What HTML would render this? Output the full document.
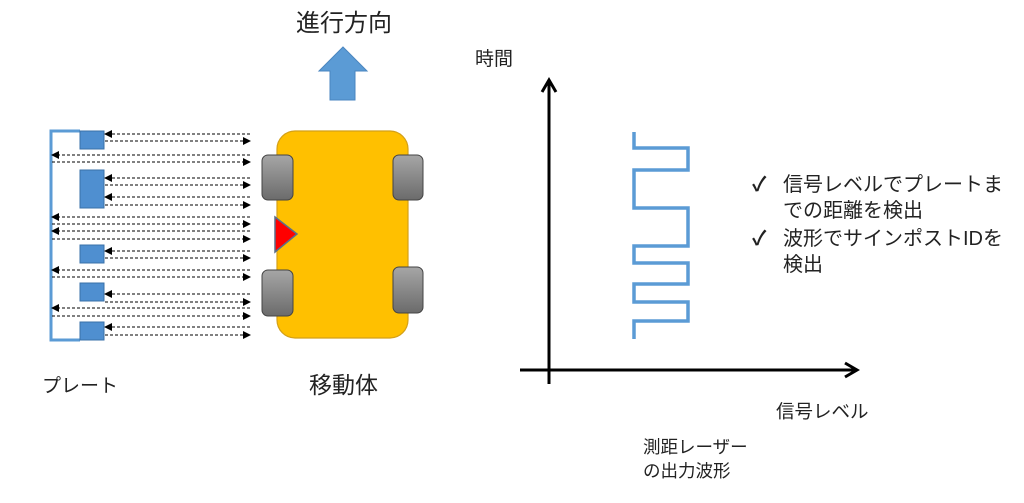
<!DOCTYPE html>
<html><head><meta charset="utf-8"><style>
html,body{margin:0;padding:0;background:#fff;}
svg{display:block;}
text{font-family:"Liberation Sans","Noto Sans CJK JP",sans-serif;fill:#222;}
</style></head><body>
<svg width="1024" height="503" viewBox="0 0 1024 503" xmlns="http://www.w3.org/2000/svg">
<defs>
<marker id="ah" markerWidth="8" markerHeight="8" refX="7" refY="4" orient="auto" markerUnits="userSpaceOnUse"><path d="M0,0 L8,4 L0,8 z" fill="#000"/></marker>
<linearGradient id="wg" x1="0" y1="0" x2="0" y2="1"><stop offset="0" stop-color="#a6a6a6"/><stop offset="1" stop-color="#6b6b6b"/></linearGradient>
</defs>
<text x="296" y="31" font-size="24">進行方向</text>
<polygon points="343,47 367,71 355,71 355,100 330,100 330,71 319,71" fill="#5b9bd5" stroke="#4a86c0" stroke-width="1"/>
<path d="M80,131 H51 V340 H80" fill="none" stroke="#5b9bd5" stroke-width="3"/>
<g fill="#4f8fd0" stroke="#3a70a8" stroke-width="1">
<rect x="80" y="131" width="24" height="18"/>
<rect x="80" y="170" width="24" height="38"/>
<rect x="80" y="245" width="24" height="18"/>
<rect x="80" y="283" width="24" height="18"/>
<rect x="80" y="322" width="24" height="18"/>
</g>
<g stroke="#000" stroke-width="1" stroke-dasharray="3,2" fill="none">
<line x1="250" y1="134" x2="105" y2="134" marker-end="url(#ah)"/><line x1="105" y1="141" x2="250" y2="141" marker-end="url(#ah)"/>
<line x1="250" y1="155" x2="52" y2="155" marker-end="url(#ah)"/><line x1="52" y1="162" x2="250" y2="162" marker-end="url(#ah)"/>
<line x1="250" y1="178" x2="105" y2="178" marker-end="url(#ah)"/><line x1="105" y1="185" x2="250" y2="185" marker-end="url(#ah)"/>
<line x1="250" y1="197" x2="105" y2="197" marker-end="url(#ah)"/><line x1="105" y1="205" x2="250" y2="205" marker-end="url(#ah)"/>
<line x1="250" y1="217" x2="52" y2="217" marker-end="url(#ah)"/><line x1="52" y1="224" x2="250" y2="224" marker-end="url(#ah)"/>
<line x1="250" y1="231" x2="52" y2="231" marker-end="url(#ah)"/><line x1="52" y1="239" x2="250" y2="239" marker-end="url(#ah)"/>
<line x1="250" y1="251" x2="105" y2="251" marker-end="url(#ah)"/><line x1="105" y1="258" x2="250" y2="258" marker-end="url(#ah)"/>
<line x1="250" y1="270" x2="52" y2="270" marker-end="url(#ah)"/><line x1="52" y1="277" x2="250" y2="277" marker-end="url(#ah)"/>
<line x1="250" y1="294" x2="105" y2="294" marker-end="url(#ah)"/><line x1="105" y1="302" x2="250" y2="302" marker-end="url(#ah)"/>
<line x1="250" y1="308" x2="52" y2="308" marker-end="url(#ah)"/><line x1="52" y1="316" x2="250" y2="316" marker-end="url(#ah)"/>
<line x1="250" y1="327" x2="105" y2="327" marker-end="url(#ah)"/><line x1="105" y1="335" x2="250" y2="335" marker-end="url(#ah)"/>
</g>
<rect x="277" y="131" width="131" height="207" rx="18" fill="#ffc000" stroke="#d4a017" stroke-width="1.2"/>
<g fill="url(#wg)" stroke="#444" stroke-width="1">
<rect x="262" y="155" width="31" height="45" rx="6"/>
<rect x="262" y="270" width="31" height="46" rx="6"/>
<rect x="393" y="155" width="30" height="45" rx="6"/>
<rect x="393" y="267" width="30" height="46" rx="6"/>
</g>
<polygon points="275,217 297,234 275,252" fill="#ff0000" stroke="#5a6f8a" stroke-width="1.5"/>
<text x="42" y="392" font-size="19">プレート</text>
<text x="309" y="393" font-size="23">移動体</text>
<text x="475" y="65" font-size="19">時間</text>
<line x1="549" y1="384" x2="549" y2="82" stroke="#000" stroke-width="3"/>
<path d="M542,92 L549,80 L556,92" fill="none" stroke="#000" stroke-width="3"/>
<line x1="520" y1="370" x2="855" y2="370" stroke="#000" stroke-width="3"/>
<path d="M845,363 L857,370 L845,377" fill="none" stroke="#000" stroke-width="3"/>
<path d="M634,132 V148 H688 V170 H634 V208 H688 V246 H634 V263 H688 V284 H634 V302 H688 V321 H634 V339" fill="none" stroke="#5b9bd5" stroke-width="3.5"/>
<text x="776" y="418" font-size="18.5">信号レベル</text>
<text x="643" y="453" font-size="17.5">測距レーザー</text>
<text x="643" y="477" font-size="17.5">の出力波形</text>
<g font-size="20">
<text x="752" y="191" font-weight="bold">✓</text>
<text x="783" y="191">信号レベルでプレートま</text>
<text x="783" y="217">での距離を検出</text>
<text x="752" y="245" font-weight="bold">✓</text>
<text x="783" y="245">波形でサインポストIDを</text>
<text x="783" y="271">検出</text>
</g>
</svg>
</body></html>
